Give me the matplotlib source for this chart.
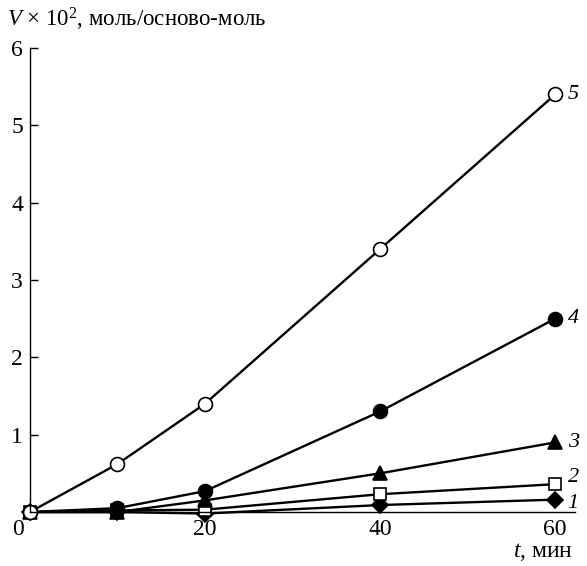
import numpy as np
import matplotlib.pyplot as plt
from matplotlib.transforms import ScaledTranslation

plt.rcParams['font.family'] = ['Liberation Serif', 'DejaVu Serif']
plt.rcParams['mathtext.fontset'] = 'custom'
plt.rcParams['mathtext.rm'] = 'Liberation Serif'
plt.rcParams['mathtext.it'] = 'Liberation Serif:italic'

# time, min
t = [0, 10, 20, 40, 60]

# V x 10^2, mol/base-mol
v1 = [0.0, 0.0, -0.02, 0.09, 0.16]
v2 = [0.0, 0.02, 0.03, 0.23, 0.36]
v3 = [0.0, 0.0, 0.15, 0.5, 0.9]
v4 = [0.0, 0.05, 0.27, 1.3, 2.5]
v5 = [0.0, 0.62, 1.4, 3.4, 5.4]

curve_labels = ['1', '2', '3', '4', '5']
label_dy = [-3, 5, 0, 0, 0]

fig = plt.figure(figsize=(5.87, 5.66), dpi=100)
ax = fig.add_axes([0.051, 0.0954, 0.929, 0.8196])

styles = [
    dict(marker='D', mfc='black', ms=8),
    dict(marker='s', mfc='white', ms=9),
    dict(marker='^', mfc='black', ms=10),
    dict(marker='o', mfc='black', ms=10),
    dict(marker='o', mfc='white', ms=10),
]
series = [v1, v2, v3, v4, v5]

for ys, st, lab, dy in zip(series, styles, curve_labels, label_dy):
    ax.plot(t, ys, color='black', lw=1.7, mec='black', mew=1.2, clip_on=False, **st)
    ax.annotate(lab, (t[-1], ys[-1]), xytext=(9, dy), textcoords='offset points',
                ha='left', va='center', fontsize=16, style='italic')

ax.set_xlim(0, 62.3)
ax.set_ylim(0, 6)
ax.set_xticks([0, 20, 40, 60])
ax.set_yticks([1, 2, 3, 4, 5, 6])
ax.spines['top'].set_visible(False)
ax.spines['right'].set_visible(False)
for s in ['left', 'bottom']:
    ax.spines[s].set_linewidth(1.0)
ax.tick_params(axis='y', direction='in', length=6, width=1, labelsize=17, pad=5)
ax.tick_params(axis='x', length=0, labelsize=17, pad=5)
ax.set_xticklabels(['0', '20', '40', '60'])
for lbl in ax.get_xticklabels():
    if lbl.get_text() == '0':
        lbl.set_horizontalalignment('right')
        lbl.set_transform(lbl.get_transform() + ScaledTranslation(-0.06, 0, fig.dpi_scale_trans))

fig.text(0.012, 0.965, r'$\mathit{V}$ × 10$^2$, моль/осново-моль', fontsize=16.5,
         ha='left', va='center')
fig.text(0.977, 0.006, r'$\mathit{t}$, мин', fontsize=17, ha='right', va='bottom')

fig.savefig('out.png', dpi=100)
